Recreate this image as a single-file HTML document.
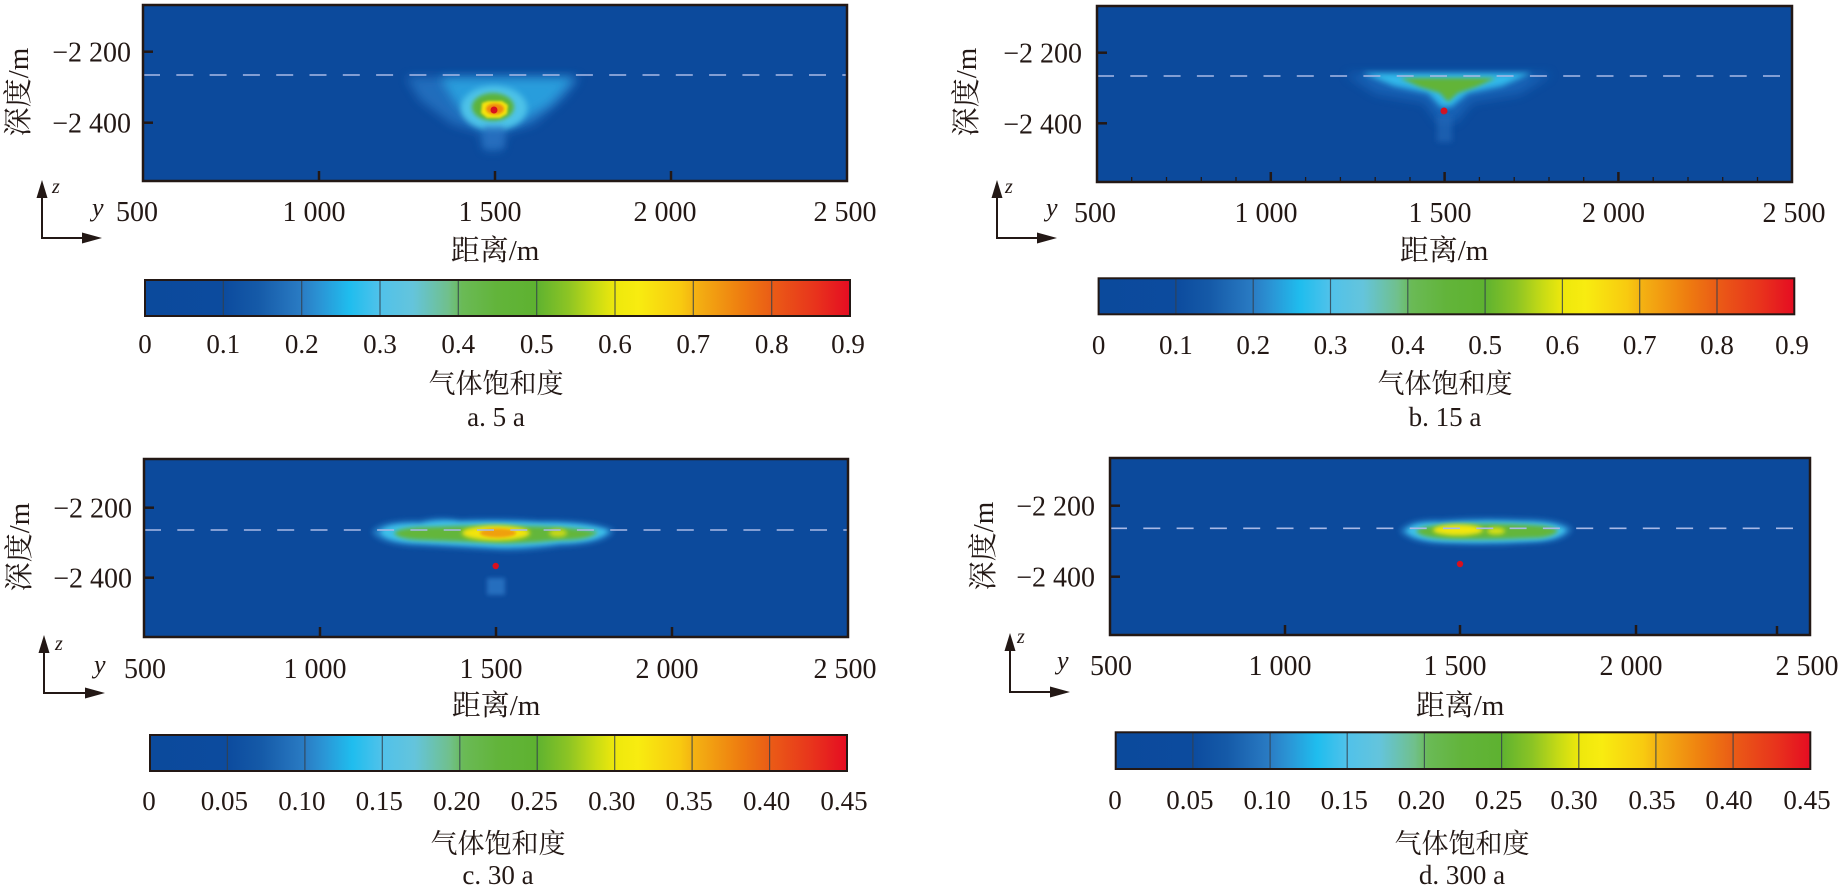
<!DOCTYPE html>
<html><head><meta charset="utf-8"><style>
html,body{margin:0;padding:0;background:#fff;}
svg{display:block;font-family:"Liberation Serif","Noto Serif CJK SC",serif;}
svg text{font-family:"Liberation Serif","Noto Serif CJK SC",serif;fill:#231815;}
.tk{font-size:28px;font-family:"Liberation Serif","Noto Serif CJK SC",serif;}
.cb{font-size:27px;font-family:"Liberation Serif","Noto Serif CJK SC",serif;}
.cn{font-size:29px;font-family:"Liberation Serif","Noto Serif CJK SC",serif;}
.cap{font-size:27px;font-family:"Liberation Serif","Noto Serif CJK SC",serif;}
.it{font-style:italic;font-family:"Liberation Serif",serif;}
</style></head><body>
<svg width="1842" height="891" viewBox="0 0 1842 891" xmlns="http://www.w3.org/2000/svg" font-family="Liberation Serif, Noto Serif CJK SC, serif">
<defs>
<linearGradient id="cm" x1="0" x2="1" y1="0" y2="0">
<stop offset="0" stop-color="#0b4a9c"/>
<stop offset="0.111" stop-color="#0c4b9e"/>
<stop offset="0.16" stop-color="#155aa8"/>
<stop offset="0.222" stop-color="#2a7cc4"/>
<stop offset="0.25" stop-color="#2a96d6"/>
<stop offset="0.29" stop-color="#1fbdee"/>
<stop offset="0.333" stop-color="#50c2ea"/>
<stop offset="0.38" stop-color="#64c4dc"/>
<stop offset="0.43" stop-color="#70c08c"/>
<stop offset="0.45" stop-color="#6aba56"/>
<stop offset="0.5" stop-color="#62b43a"/>
<stop offset="0.555" stop-color="#5eb230"/>
<stop offset="0.6" stop-color="#8cc424"/>
<stop offset="0.64" stop-color="#cadc14"/>
<stop offset="0.667" stop-color="#eee80c"/>
<stop offset="0.7" stop-color="#f8ec10"/>
<stop offset="0.76" stop-color="#f8ca10"/>
<stop offset="0.778" stop-color="#f4b412"/>
<stop offset="0.85" stop-color="#ee7a10"/>
<stop offset="0.889" stop-color="#ea5c16"/>
<stop offset="0.95" stop-color="#e8341c"/>
<stop offset="1" stop-color="#e50c22"/>
</linearGradient>
<filter id="f1" x="-50%" y="-50%" width="200%" height="200%"><feGaussianBlur stdDeviation="1.2"/></filter>
<filter id="f2" x="-50%" y="-50%" width="200%" height="200%"><feGaussianBlur stdDeviation="2"/></filter>
<filter id="f3" x="-50%" y="-50%" width="200%" height="200%"><feGaussianBlur stdDeviation="3"/></filter>
<filter id="f5" x="-50%" y="-50%" width="200%" height="200%"><feGaussianBlur stdDeviation="5"/></filter>
<clipPath id="ca"><rect x="143" y="5" width="704" height="176"/></clipPath>
<clipPath id="cbp"><rect x="1097" y="6" width="695" height="176"/></clipPath>
<clipPath id="cc"><rect x="144" y="459" width="704" height="178"/></clipPath>
<clipPath id="cd"><rect x="1110" y="458" width="700" height="177"/></clipPath>
</defs>

<!-- ================= PANEL A ================= -->
<rect x="143" y="5" width="704" height="176" fill="#0c4a9c"/>
<g clip-path="url(#ca)">
  <polygon points="406,77 580,77 564,98 534,124 506,132 502,150 484,150 480,132 452,124 420,100" fill="#2676c4" opacity="0.8" filter="url(#f5)"/>
  <polygon points="440,78 574,78 550,104 516,124 476,124 456,104" fill="#2aa6e2" opacity="0.85" filter="url(#f5)"/>
  <ellipse cx="494" cy="108" rx="33" ry="22" fill="#4ec2e8" filter="url(#f3)"/>
  <ellipse cx="493" cy="107" rx="21" ry="14" fill="#5cb33a" filter="url(#f2)"/>
  <polygon points="482,103 488,101 502,101 508,105 507,114 500,118 487,118 481,113" fill="#f4e20c" filter="url(#f1)"/>
  <ellipse cx="495" cy="109" rx="9" ry="5.5" fill="#f08a10" filter="url(#f1)"/>
  <circle cx="494" cy="110" r="3.5" fill="#d8101e"/>
  <rect x="484" y="126" width="20" height="22" fill="#2a70c0" opacity="0.6" filter="url(#f3)"/>
</g>
<line x1="143" y1="75" x2="847" y2="75" stroke="#a9b9e6" stroke-width="1.6" stroke-dasharray="17,16.3"/>
<g stroke="#231815" stroke-width="2.5">
  <line x1="143" y1="51.7" x2="153" y2="51.7"/>
  <line x1="143" y1="122.7" x2="153" y2="122.7"/>
  <line x1="319" y1="181" x2="319" y2="171"/>
  <line x1="495" y1="181" x2="495" y2="171"/>
  <line x1="671" y1="181" x2="671" y2="171"/>
</g>
<rect x="143" y="5" width="704" height="176" fill="none" stroke="#231815" stroke-width="2.5"/>
<text class="tk" x="131" y="61.7" text-anchor="end">−2 200</text>
<text class="tk" x="131" y="132.7" text-anchor="end">−2 400</text>
<text class="cn" transform="translate(28,92) rotate(-90)" text-anchor="middle">深度/m</text>
<text class="tk" x="137" y="221" text-anchor="middle">500</text>
<text class="tk" x="314" y="221" text-anchor="middle">1 000</text>
<text class="tk" x="490" y="221" text-anchor="middle">1 500</text>
<text class="tk" x="665" y="221" text-anchor="middle">2 000</text>
<text class="tk" x="845" y="221" text-anchor="middle">2 500</text>
<g stroke="#231815" stroke-width="2" fill="none">
  <line x1="42" y1="196" x2="42" y2="238"/>
  <line x1="41" y1="238" x2="84" y2="238"/>
</g>
<polygon points="42,180 36.5,198 47.5,198" fill="#231815"/>
<polygon points="102,238 82,232.5 82,243.5" fill="#231815"/>
<text class="it" x="52" y="193" font-size="20">z</text>
<text class="it" x="92" y="216" font-size="26">y</text>
<text class="cn" x="495" y="260" text-anchor="middle">距离/m</text>
<rect x="145" y="280" width="705" height="36" fill="url(#cm)"/>
<g stroke="#33404c" stroke-width="1.2" opacity="0.8">
  <line x1="223.3" y1="280" x2="223.3" y2="316"/><line x1="301.7" y1="280" x2="301.7" y2="316"/>
  <line x1="380" y1="280" x2="380" y2="316"/><line x1="458.3" y1="280" x2="458.3" y2="316"/>
  <line x1="536.7" y1="280" x2="536.7" y2="316"/><line x1="615" y1="280" x2="615" y2="316"/>
  <line x1="693.3" y1="280" x2="693.3" y2="316"/><line x1="771.7" y1="280" x2="771.7" y2="316"/>
</g>
<rect x="145" y="280" width="705" height="36" fill="none" stroke="#231815" stroke-width="2"/>
<g text-anchor="middle">
  <text class="cb" x="145" y="353">0</text><text class="cb" x="223.3" y="353">0.1</text>
  <text class="cb" x="301.7" y="353">0.2</text><text class="cb" x="380" y="353">0.3</text>
  <text class="cb" x="458.3" y="353">0.4</text><text class="cb" x="536.7" y="353">0.5</text>
  <text class="cb" x="615" y="353">0.6</text><text class="cb" x="693.3" y="353">0.7</text>
  <text class="cb" x="771.7" y="353">0.8</text><text class="cb" x="848" y="353">0.9</text>
</g>
<text class="cap" x="496" y="393" text-anchor="middle">气体饱和度</text>
<text class="cap" x="496" y="426" text-anchor="middle">a. 5 a</text>

<!-- ================= PANEL B ================= -->
<rect x="1097" y="6" width="695" height="176" fill="#0c4a9c"/>
<g clip-path="url(#cbp)">
  <polygon points="1345,74 1552,74 1520,94 1472,102 1456,122 1438,122 1424,102 1376,94" fill="#1f6cc0" opacity="0.7" filter="url(#f5)"/>
  <polygon points="1362,73 1532,73 1502,86 1468,93 1451,107 1441,107 1428,93 1394,86" fill="#30b8ea" filter="url(#f3)"/>
  <polygon points="1400,78 1496,78 1476,87 1458,93 1448,102 1440,93 1420,87" fill="#62b438" filter="url(#f2)"/>
  <circle cx="1444" cy="111" r="3.5" fill="#d8101e"/>
  <rect x="1437" y="116" width="15" height="26" fill="#2468b8" opacity="0.7" filter="url(#f3)"/>
</g>
<line x1="1097" y1="76" x2="1792" y2="76" stroke="#a9b9e6" stroke-width="1.6" stroke-dasharray="17,16.3"/>
<g stroke="#231815" stroke-width="2.5">
  <line x1="1097" y1="52.7" x2="1107" y2="52.7"/>
  <line x1="1097" y1="123.3" x2="1107" y2="123.3"/>
  <line x1="1270.8" y1="182" x2="1270.8" y2="172"/>
  <line x1="1444.6" y1="182" x2="1444.6" y2="172"/>
  <line x1="1618.4" y1="182" x2="1618.4" y2="172"/>
</g>
<g stroke="#231815" stroke-width="1.3">
  <line x1="1131.7" y1="182" x2="1131.7" y2="177"/><line x1="1166.5" y1="182" x2="1166.5" y2="177"/>
  <line x1="1201.3" y1="182" x2="1201.3" y2="177"/><line x1="1236" y1="182" x2="1236" y2="177"/>
  <line x1="1305.6" y1="182" x2="1305.6" y2="177"/><line x1="1340.4" y1="182" x2="1340.4" y2="177"/>
  <line x1="1375.2" y1="182" x2="1375.2" y2="177"/><line x1="1410" y1="182" x2="1410" y2="177"/>
  <line x1="1479.4" y1="182" x2="1479.4" y2="177"/><line x1="1514.2" y1="182" x2="1514.2" y2="177"/>
  <line x1="1549" y1="182" x2="1549" y2="177"/><line x1="1583.7" y1="182" x2="1583.7" y2="177"/>
  <line x1="1653.2" y1="182" x2="1653.2" y2="177"/><line x1="1688" y1="182" x2="1688" y2="177"/>
  <line x1="1722.7" y1="182" x2="1722.7" y2="177"/><line x1="1757.5" y1="182" x2="1757.5" y2="177"/>
</g>
<rect x="1097" y="6" width="695" height="176" fill="none" stroke="#231815" stroke-width="2.5"/>
<text class="tk" x="1082" y="62.7" text-anchor="end">−2 200</text>
<text class="tk" x="1082" y="133.3" text-anchor="end">−2 400</text>
<text class="cn" transform="translate(976,92) rotate(-90)" text-anchor="middle">深度/m</text>
<text class="tk" x="1095" y="222" text-anchor="middle">500</text>
<text class="tk" x="1266" y="222" text-anchor="middle">1 000</text>
<text class="tk" x="1440" y="222" text-anchor="middle">1 500</text>
<text class="tk" x="1613.5" y="222" text-anchor="middle">2 000</text>
<text class="tk" x="1794" y="222" text-anchor="middle">2 500</text>
<g stroke="#231815" stroke-width="2" fill="none">
  <line x1="997" y1="196" x2="997" y2="238"/>
  <line x1="996" y1="238" x2="1039" y2="238"/>
</g>
<polygon points="997,180 991.5,198 1002.5,198" fill="#231815"/>
<polygon points="1057,238 1037,232.5 1037,243.5" fill="#231815"/>
<text class="it" x="1005" y="193" font-size="20">z</text>
<text class="it" x="1046" y="216" font-size="26">y</text>
<text class="cn" x="1444" y="260" text-anchor="middle">距离/m</text>
<rect x="1098.6" y="278.3" width="695.7" height="36" fill="url(#cm)"/>
<g stroke="#33404c" stroke-width="1.2" opacity="0.8">
  <line x1="1175.9" y1="278.3" x2="1175.9" y2="314.3"/><line x1="1253.2" y1="278.3" x2="1253.2" y2="314.3"/>
  <line x1="1330.5" y1="278.3" x2="1330.5" y2="314.3"/><line x1="1407.8" y1="278.3" x2="1407.8" y2="314.3"/>
  <line x1="1485.1" y1="278.3" x2="1485.1" y2="314.3"/><line x1="1562.4" y1="278.3" x2="1562.4" y2="314.3"/>
  <line x1="1639.7" y1="278.3" x2="1639.7" y2="314.3"/><line x1="1717" y1="278.3" x2="1717" y2="314.3"/>
</g>
<rect x="1098.6" y="278.3" width="695.7" height="36" fill="none" stroke="#231815" stroke-width="2"/>
<g text-anchor="middle">
  <text class="cb" x="1098.6" y="354">0</text><text class="cb" x="1175.9" y="354">0.1</text>
  <text class="cb" x="1253.2" y="354">0.2</text><text class="cb" x="1330.5" y="354">0.3</text>
  <text class="cb" x="1407.8" y="354">0.4</text><text class="cb" x="1485.1" y="354">0.5</text>
  <text class="cb" x="1562.4" y="354">0.6</text><text class="cb" x="1639.7" y="354">0.7</text>
  <text class="cb" x="1717" y="354">0.8</text><text class="cb" x="1792" y="354">0.9</text>
</g>
<text class="cap" x="1445" y="393" text-anchor="middle">气体饱和度</text>
<text class="cap" x="1445" y="426" text-anchor="middle">b. 15 a</text>

<!-- ================= PANEL C ================= -->
<rect x="144" y="459" width="704" height="178" fill="#0c4a9c"/>
<g clip-path="url(#cc)">
  <path d="M372,532 Q380,520 420,521 Q440,516 460,520 Q500,518 540,521 Q590,520 614,530 Q608,544 560,546 Q520,552 495,550 Q460,548 420,546 Q380,545 372,532 Z" fill="#2a8fd4" opacity="0.8" filter="url(#f3)"/>
  <path d="M380,532 Q386,523 420,524 Q440,519 460,522 Q500,521 540,523 Q590,523 608,531 Q600,542 560,543 Q520,548 495,547 Q460,545 420,543 Q386,542 380,532 Z" fill="#3cc0ea" filter="url(#f2)"/>
  <path d="M394,533 Q400,527 430,527 Q470,525 510,526 Q570,526 598,532 Q590,540 560,540 Q520,544 495,543 Q450,541 420,540 Q398,539 394,533 Z" fill="#64b63a" filter="url(#f2)"/>
  <ellipse cx="496" cy="533" rx="34" ry="7.5" fill="#f2e40e" filter="url(#f2)"/>
  <ellipse cx="498" cy="533" rx="18" ry="4.5" fill="#f0a010" filter="url(#f1)"/>
  <ellipse cx="558" cy="533" rx="9" ry="4" fill="#c8d818" filter="url(#f2)"/>
  <circle cx="495.7" cy="566" r="3.2" fill="#d8101e"/>
  <rect x="487" y="578" width="18" height="17" fill="#2c74c4" opacity="0.85" filter="url(#f2)"/>
</g>
<line x1="144" y1="530" x2="848" y2="530" stroke="#a9b9e6" stroke-width="1.6" stroke-dasharray="17,16.3"/>
<g stroke="#231815" stroke-width="2.5">
  <line x1="144" y1="507.7" x2="154" y2="507.7"/>
  <line x1="144" y1="577.7" x2="154" y2="577.7"/>
  <line x1="320" y1="637" x2="320" y2="627"/>
  <line x1="496" y1="637" x2="496" y2="627"/>
  <line x1="672" y1="637" x2="672" y2="627"/>
</g>
<rect x="144" y="459" width="704" height="178" fill="none" stroke="#231815" stroke-width="2.5"/>
<text class="tk" x="132" y="517.7" text-anchor="end">−2 200</text>
<text class="tk" x="132" y="587.7" text-anchor="end">−2 400</text>
<text class="cn" transform="translate(29,547) rotate(-90)" text-anchor="middle">深度/m</text>
<text class="tk" x="145" y="678" text-anchor="middle">500</text>
<text class="tk" x="315" y="678" text-anchor="middle">1 000</text>
<text class="tk" x="491" y="678" text-anchor="middle">1 500</text>
<text class="tk" x="667" y="678" text-anchor="middle">2 000</text>
<text class="tk" x="845" y="678" text-anchor="middle">2 500</text>
<g stroke="#231815" stroke-width="2" fill="none">
  <line x1="44" y1="651" x2="44" y2="693"/>
  <line x1="43" y1="693" x2="87" y2="693"/>
</g>
<polygon points="44,635 38.5,653 49.5,653" fill="#231815"/>
<polygon points="105,693 85,687.5 85,698.5" fill="#231815"/>
<text class="it" x="55" y="650" font-size="20">z</text>
<text class="it" x="94" y="673" font-size="26">y</text>
<text class="cn" x="496" y="715" text-anchor="middle">距离/m</text>
<rect x="150" y="735" width="697" height="36" fill="url(#cm)"/>
<g stroke="#33404c" stroke-width="1.2" opacity="0.8">
  <line x1="227.4" y1="735" x2="227.4" y2="771"/><line x1="304.9" y1="735" x2="304.9" y2="771"/>
  <line x1="382.3" y1="735" x2="382.3" y2="771"/><line x1="459.8" y1="735" x2="459.8" y2="771"/>
  <line x1="537.2" y1="735" x2="537.2" y2="771"/><line x1="614.7" y1="735" x2="614.7" y2="771"/>
  <line x1="692.1" y1="735" x2="692.1" y2="771"/><line x1="769.6" y1="735" x2="769.6" y2="771"/>
</g>
<rect x="150" y="735" width="697" height="36" fill="none" stroke="#231815" stroke-width="2"/>
<g text-anchor="middle">
  <text class="cb" x="149" y="810">0</text><text class="cb" x="224.4" y="810">0.05</text>
  <text class="cb" x="301.9" y="810">0.10</text><text class="cb" x="379.3" y="810">0.15</text>
  <text class="cb" x="456.8" y="810">0.20</text><text class="cb" x="534.2" y="810">0.25</text>
  <text class="cb" x="611.7" y="810">0.30</text><text class="cb" x="689.1" y="810">0.35</text>
  <text class="cb" x="766.6" y="810">0.40</text><text class="cb" x="844" y="810">0.45</text>
</g>
<text class="cap" x="498" y="853" text-anchor="middle">气体饱和度</text>
<text class="cap" x="498" y="884" text-anchor="middle">c. 30 a</text>

<!-- ================= PANEL D ================= -->
<rect x="1110" y="458" width="700" height="177" fill="#0c4a9c"/>
<g clip-path="url(#cd)">
  <path d="M1400,531 Q1408,519 1440,520 Q1480,517 1520,519 Q1562,519 1572,529 Q1566,542 1530,543 Q1490,546 1450,544 Q1410,544 1400,531 Z" fill="#2a8fd4" opacity="0.8" filter="url(#f3)"/>
  <path d="M1406,531 Q1412,522 1440,523 Q1480,520 1520,522 Q1558,522 1566,530 Q1560,540 1530,541 Q1490,543 1450,542 Q1414,541 1406,531 Z" fill="#3cc0ea" filter="url(#f2)"/>
  <path d="M1416,531 Q1422,525 1450,525 Q1490,523 1530,525 Q1556,526 1558,531 Q1552,538 1530,538 Q1490,540 1450,539 Q1420,538 1416,531 Z" fill="#64b63a" filter="url(#f2)"/>
  <ellipse cx="1458" cy="530" rx="25" ry="5.5" fill="#f2e60e" filter="url(#f2)"/>
  <ellipse cx="1496" cy="531" rx="9" ry="3.5" fill="#d8e014" filter="url(#f2)"/>
  <circle cx="1460" cy="564" r="3.2" fill="#d8101e"/>
</g>
<line x1="1110" y1="528.3" x2="1810" y2="528.3" stroke="#a9b9e6" stroke-width="1.6" stroke-dasharray="17,16.3"/>
<g stroke="#231815" stroke-width="2.5">
  <line x1="1110" y1="505.7" x2="1120" y2="505.7"/>
  <line x1="1110" y1="576.7" x2="1120" y2="576.7"/>
  <line x1="1285" y1="635" x2="1285" y2="625"/>
  <line x1="1460" y1="635" x2="1460" y2="625"/>
  <line x1="1636" y1="635" x2="1636" y2="625"/>
  <line x1="1777" y1="635" x2="1777" y2="626"/>
</g>
<rect x="1110" y="458" width="700" height="177" fill="none" stroke="#231815" stroke-width="2.5"/>
<text class="tk" x="1095" y="515.7" text-anchor="end">−2 200</text>
<text class="tk" x="1095" y="586.7" text-anchor="end">−2 400</text>
<text class="cn" transform="translate(993,546) rotate(-90)" text-anchor="middle">深度/m</text>
<text class="tk" x="1111" y="675" text-anchor="middle">500</text>
<text class="tk" x="1280" y="675" text-anchor="middle">1 000</text>
<text class="tk" x="1455" y="675" text-anchor="middle">1 500</text>
<text class="tk" x="1631" y="675" text-anchor="middle">2 000</text>
<text class="tk" x="1807" y="675" text-anchor="middle">2 500</text>
<g stroke="#231815" stroke-width="2" fill="none">
  <line x1="1010" y1="649" x2="1010" y2="692"/>
  <line x1="1009" y1="692" x2="1052" y2="692"/>
</g>
<polygon points="1010,633 1004.5,651 1015.5,651" fill="#231815"/>
<polygon points="1070,692 1050,686.5 1050,697.5" fill="#231815"/>
<text class="it" x="1017" y="643" font-size="20">z</text>
<text class="it" x="1057" y="669" font-size="26">y</text>
<text class="cn" x="1460" y="715" text-anchor="middle">距离/m</text>
<rect x="1115.7" y="732.3" width="694.6" height="36.7" fill="url(#cm)"/>
<g stroke="#33404c" stroke-width="1.2" opacity="0.8">
  <line x1="1192.9" y1="732.3" x2="1192.9" y2="769"/><line x1="1270.1" y1="732.3" x2="1270.1" y2="769"/>
  <line x1="1347.2" y1="732.3" x2="1347.2" y2="769"/><line x1="1424.4" y1="732.3" x2="1424.4" y2="769"/>
  <line x1="1501.6" y1="732.3" x2="1501.6" y2="769"/><line x1="1578.8" y1="732.3" x2="1578.8" y2="769"/>
  <line x1="1655.9" y1="732.3" x2="1655.9" y2="769"/><line x1="1733.1" y1="732.3" x2="1733.1" y2="769"/>
</g>
<rect x="1115.7" y="732.3" width="694.6" height="36.7" fill="none" stroke="#231815" stroke-width="2"/>
<g text-anchor="middle">
  <text class="cb" x="1115" y="809">0</text><text class="cb" x="1189.9" y="809">0.05</text>
  <text class="cb" x="1267.1" y="809">0.10</text><text class="cb" x="1344.2" y="809">0.15</text>
  <text class="cb" x="1421.4" y="809">0.20</text><text class="cb" x="1498.6" y="809">0.25</text>
  <text class="cb" x="1574" y="809">0.30</text><text class="cb" x="1652" y="809">0.35</text>
  <text class="cb" x="1729" y="809">0.40</text><text class="cb" x="1807" y="809">0.45</text>
</g>
<text class="cap" x="1462" y="853" text-anchor="middle">气体饱和度</text>
<text class="cap" x="1462" y="884" text-anchor="middle">d. 300 a</text>
</svg>
</body></html>
